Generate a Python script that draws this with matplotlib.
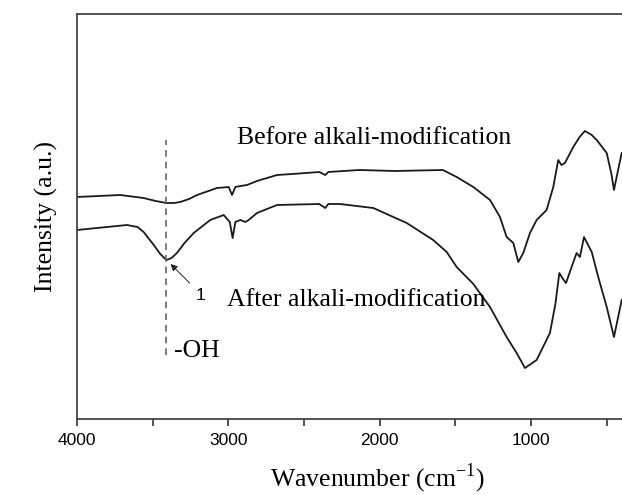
import matplotlib
matplotlib.use("Agg")
import matplotlib.pyplot as plt

# FTIR spectra, intensity in arbitrary units
wn_before = [4000, 3714, 3560, 3480, 3410, 3360, 3318, 3260, 3207, 3075, 2998, 2976,
             2954, 2920, 2877, 2811, 2679, 2578, 2400, 2360, 2340, 2136, 1900, 1583,
             1492, 1382, 1272, 1206, 1162, 1118, 1085, 1052, 1008, 964, 898, 854, 821,
             800, 777, 722, 680, 645, 600, 567, 501, 470, 453, 430, 402]
int_before = [222, 224, 221, 218, 216, 216, 217, 220, 224, 231, 232, 224,
              232, 233, 234, 238, 244, 245, 247, 244, 247, 249, 248, 249,
              242, 232, 219, 202, 182, 176, 157, 166, 186, 199, 209, 232, 259,
              254, 256, 272, 282, 288, 284, 279, 266, 245, 229, 246, 266]

wn_after = [4000, 3670, 3600, 3560, 3493, 3450, 3410, 3375, 3340, 3290, 3229, 3120,
            3031, 2991, 2972, 2954, 2921, 2888, 2866, 2811, 2679, 2400, 2360, 2340,
            2263, 2043, 1822, 1647, 1558, 1492, 1382, 1272, 1162, 1096, 1041, 964,
            876, 840, 814, 790, 770, 700, 678, 651, 600, 557, 501, 453, 402]
int_after = [189, 194, 192, 187, 174, 165, 159, 161, 166, 176, 186, 199,
             204, 197, 181, 197, 199, 197, 199, 206, 214, 215, 211, 215,
             215, 211, 196, 179, 167, 152, 135, 112, 82, 66, 51, 59,
             86, 115, 146, 140, 136, 166, 162, 182, 167, 142, 112, 82, 119]

oh_position = 3410

plt.rcParams['font.family'] = ['Liberation Serif', 'DejaVu Serif']
fig = plt.figure(figsize=(6.22, 4.95), dpi=100)
ax = fig.add_axes([77 / 622, 76 / 495, 545 / 622, 405.5 / 495])

ax.plot(wn_before, int_before, color='#1a1a1a', lw=1.3)
ax.plot(wn_after, int_after, color='#1a1a1a', lw=1.3)

ax.set_xlim(4000, 400)
ax.set_ylim(0, 405.5)

ax.vlines(oh_position, 64, 279, colors='#666666', linestyles=(0, (4, 3)), lw=1.2)

ax.text(2940, 281, 'Before alkali-modification', fontsize=18.5, va='center')
ax.text(3006, 119, 'After alkali-modification', fontsize=18.5, va='center')
ax.text(3356, 68, '-OH', fontsize=18.5, va='center')
ax.text(3217, 123, '1', fontsize=12.5, family='Liberation Sans', va='center')
ax.annotate('', xy=(3395, 157), xytext=(3243, 134),
            arrowprops=dict(arrowstyle='-|>', color='#222222', lw=0.7,
                            mutation_scale=10))

ax.spines['right'].set_visible(False)
for s in ['left', 'bottom', 'top']:
    ax.spines[s].set_color('#444444')
    ax.spines[s].set_linewidth(1.3)

ax.set_yticks([])
ax.set_xticks([4000, 3000, 2000, 1000])
ax.set_xticks([3500, 2500, 1500, 500], minor=True)
ax.tick_params(axis='x', which='both', direction='out', length=5, width=1.2,
               color='#333333')
ax.tick_params(axis='x', which='major', pad=5)
for lab in ax.get_xticklabels():
    lab.set_family('Liberation Sans')
    lab.set_fontsize(12.5)

ax.set_ylabel('Intensity (a.u.)', fontsize=18.5, labelpad=14)
fig.text(377 / 622, 1 - 478 / 495, r'Wavenumber (cm$^{\mathregular{-1}}$)',
         fontsize=18.5, ha='center', va='center')

fig.savefig('out.png', dpi=100)
